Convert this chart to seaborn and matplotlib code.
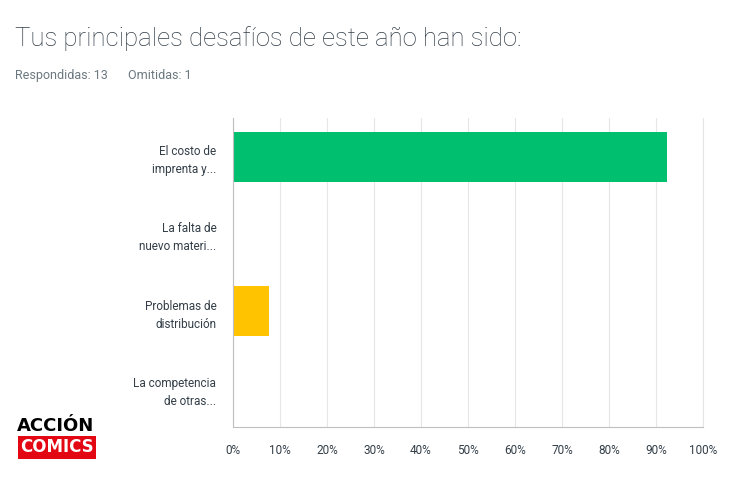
import numpy as np
import pandas as pd
import seaborn as sns
import matplotlib.pyplot as plt

categories = ["El costo de\nimprenta y...", "La falta de\nnuevo materi...",
              "Problemas de\ndistribución", "La competencia\nde otras..."]
values = [92.31, 0.0, 7.69, 0.0]
colors = ["#00bf6f", "#00bf6f", "#ffc300", "#ffc300"]
xticks = [0, 10, 20, 30, 40, 50, 60, 70, 80, 90, 100]

sns.set_style("white")
plt.rcParams['font.family'] = ['Roboto', 'DejaVu Sans']

df = pd.DataFrame({"cat": categories, "val": values})

fig = plt.figure(figsize=(7.53, 4.80), dpi=100)
ax = fig.add_axes([0.3094, 0.1104, 0.6242, 0.6438])

sns.barplot(data=df, x="val", y="cat", hue="cat", palette=colors, legend=False,
            width=0.65, saturation=1, linewidth=0, ax=ax, zorder=3)

ax.set_xlim(0, 100)
ax.set_xticks(xticks)
ax.set_xticklabels([f"{t}%" for t in xticks])
ax.grid(axis="x", color="#e6e6e6", linewidth=0.8, zorder=0)
ax.set_xlabel("")
ax.set_ylabel("")
ax.spines["top"].set_visible(False)
ax.spines["right"].set_visible(True)
ax.spines["right"].set_color("#e6e6e6")
ax.spines["left"].set_color("#bfbfbf")
ax.spines["bottom"].set_color("#bfbfbf")
ax.spines["left"].set_zorder(4)
ax.tick_params(axis="x", length=0, pad=12, labelsize=8.5, labelcolor="#333e48")
ax.tick_params(axis="y", length=0, pad=12, labelsize=8.5, labelcolor="#333e48")
for lbl in ax.get_yticklabels():
    lbl.set_horizontalalignment("right")
    lbl.set_linespacing(1.5)

fig.text(0.02, 0.92, "Tus principales desafíos de este año han sido:", fontsize=18.5,
         color="#333e48", fontweight="light", va="center")
fig.text(0.02, 0.842, "Respondidas: 13", fontsize=9, color="#6b787f", va="center")
fig.text(0.17, 0.842, "Omitidas: 1", fontsize=9, color="#6b787f", va="center")

# logo
fig.text(0.023, 0.112, "ACCIÓN", fontsize=13, fontweight="black", color="black",
         va="center", ha="left", family=["DejaVu Sans"])
fig.text(0.027, 0.068, "COMICS", fontsize=12, fontweight="bold", color="white",
         va="center", ha="left", family=["DejaVu Sans"],
         bbox=dict(boxstyle="square,pad=0.15", fc="#e30613", ec="none"))

fig.savefig("out.png", dpi=100)
